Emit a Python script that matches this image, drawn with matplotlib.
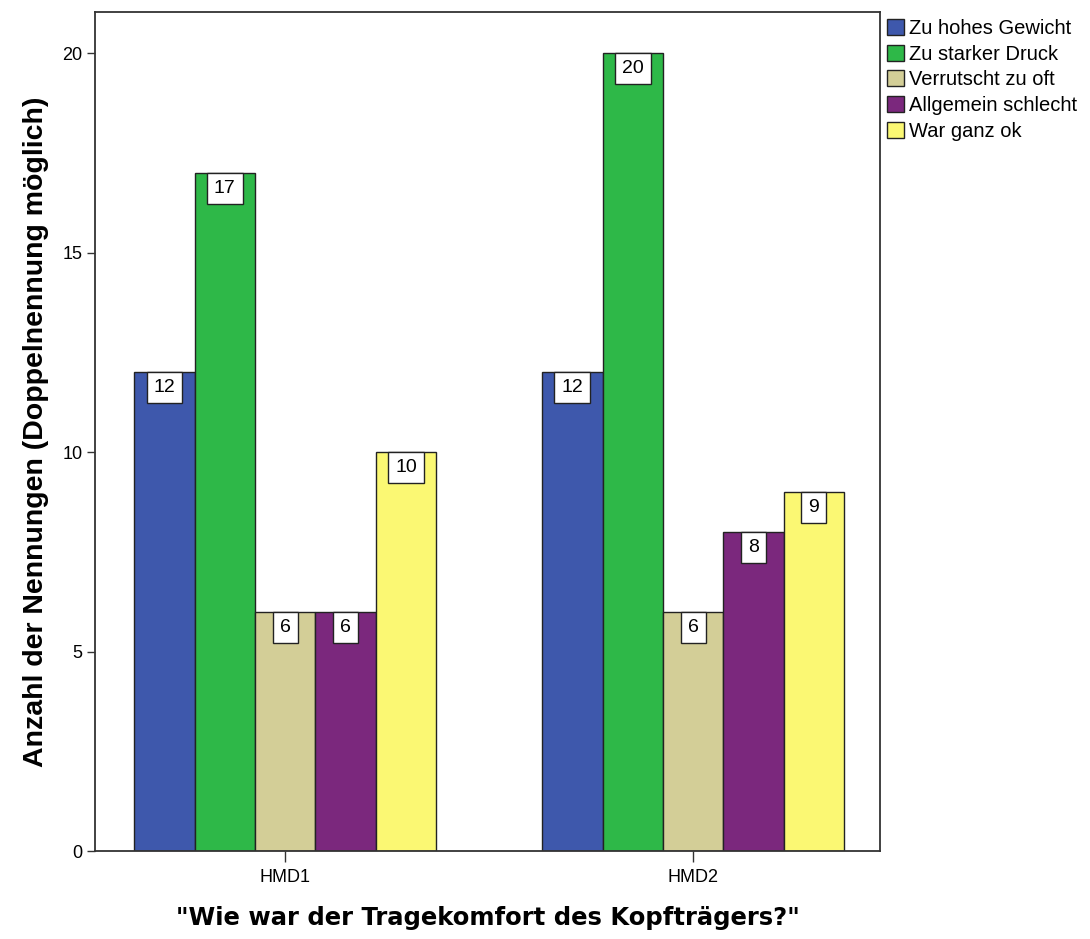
import matplotlib
matplotlib.use("Agg")
import matplotlib.pyplot as plt
import numpy as np

groups = ["HMD1", "HMD2"]
series = ["Zu hohes Gewicht", "Zu starker Druck", "Verrutscht zu oft",
          "Allgemein schlecht", "War ganz ok"]
values = [
    [12, 12],   # Zu hohes Gewicht
    [17, 20],   # Zu starker Druck
    [6, 6],     # Verrutscht zu oft
    [6, 8],     # Allgemein schlecht
    [10, 9],    # War ganz ok
]
colors = ["#3E58AC", "#2EB848", "#D3CE97", "#7B287D", "#FBF873"]
yticks = [0, 5, 10, 15, 20]

plt.rcParams["font.family"] = ["Liberation Sans", "DejaVu Sans"]

fig = plt.figure(figsize=(10.9, 9.39), dpi=100)
ax = fig.add_axes([0.0872, 0.0937, 0.7201, 0.8935])

x = np.arange(len(groups))
width = 0.148
n = len(series)
for i, (name, vals, col) in enumerate(zip(series, values, colors)):
    pos = x + (i - (n - 1) / 2) * width
    bars = ax.bar(pos, vals, width=width, color=col, edgecolor="#222222",
                  linewidth=1.0, label=name, zorder=2)
    for b, v in zip(bars, vals):
        ax.annotate(str(v), xy=(b.get_x() + b.get_width() / 2, v),
                    xytext=(0, -5.2), textcoords="offset points",
                    ha="center", va="top", fontsize=14, zorder=4,
                    bbox=dict(boxstyle="square,pad=0.36", fc="white",
                              ec="#222222", lw=1.0))

ax.set_xlim(-0.466, 1.458)
ax.set_ylim(0, 21.03)
ax.set_xticks(x)
ax.set_xticklabels(groups, fontsize=13)
ax.set_yticks(yticks)
ax.set_yticklabels([str(t) for t in yticks], fontsize=13)
ax.tick_params(axis="y", length=6, width=1, color="#333333", pad=3)
ax.tick_params(axis="x", length=8, width=1, color="#333333", pad=5)
for s in ax.spines.values():
    s.set_color("#333333")
    s.set_linewidth(1.3)

ax.set_ylabel("Anzahl der Nennungen (Doppelnennung möglich)",
              fontsize=20.5, fontweight="bold", labelpad=10)
ax.set_xlabel("\"Wie war der Tragekomfort des Kopfträgers?\"",
              fontsize=17.5, fontweight="bold", labelpad=14,
              family="DejaVu Sans")

leg = ax.legend(loc="upper left", bbox_to_anchor=(1.0, 1.0), frameon=False,
                fontsize=14.5, handlelength=0.85, handleheight=0.85,
                handletextpad=0.25, labelspacing=0.33, borderaxespad=0.2,
                borderpad=0.15)

fig.savefig("out.png", dpi=100)
